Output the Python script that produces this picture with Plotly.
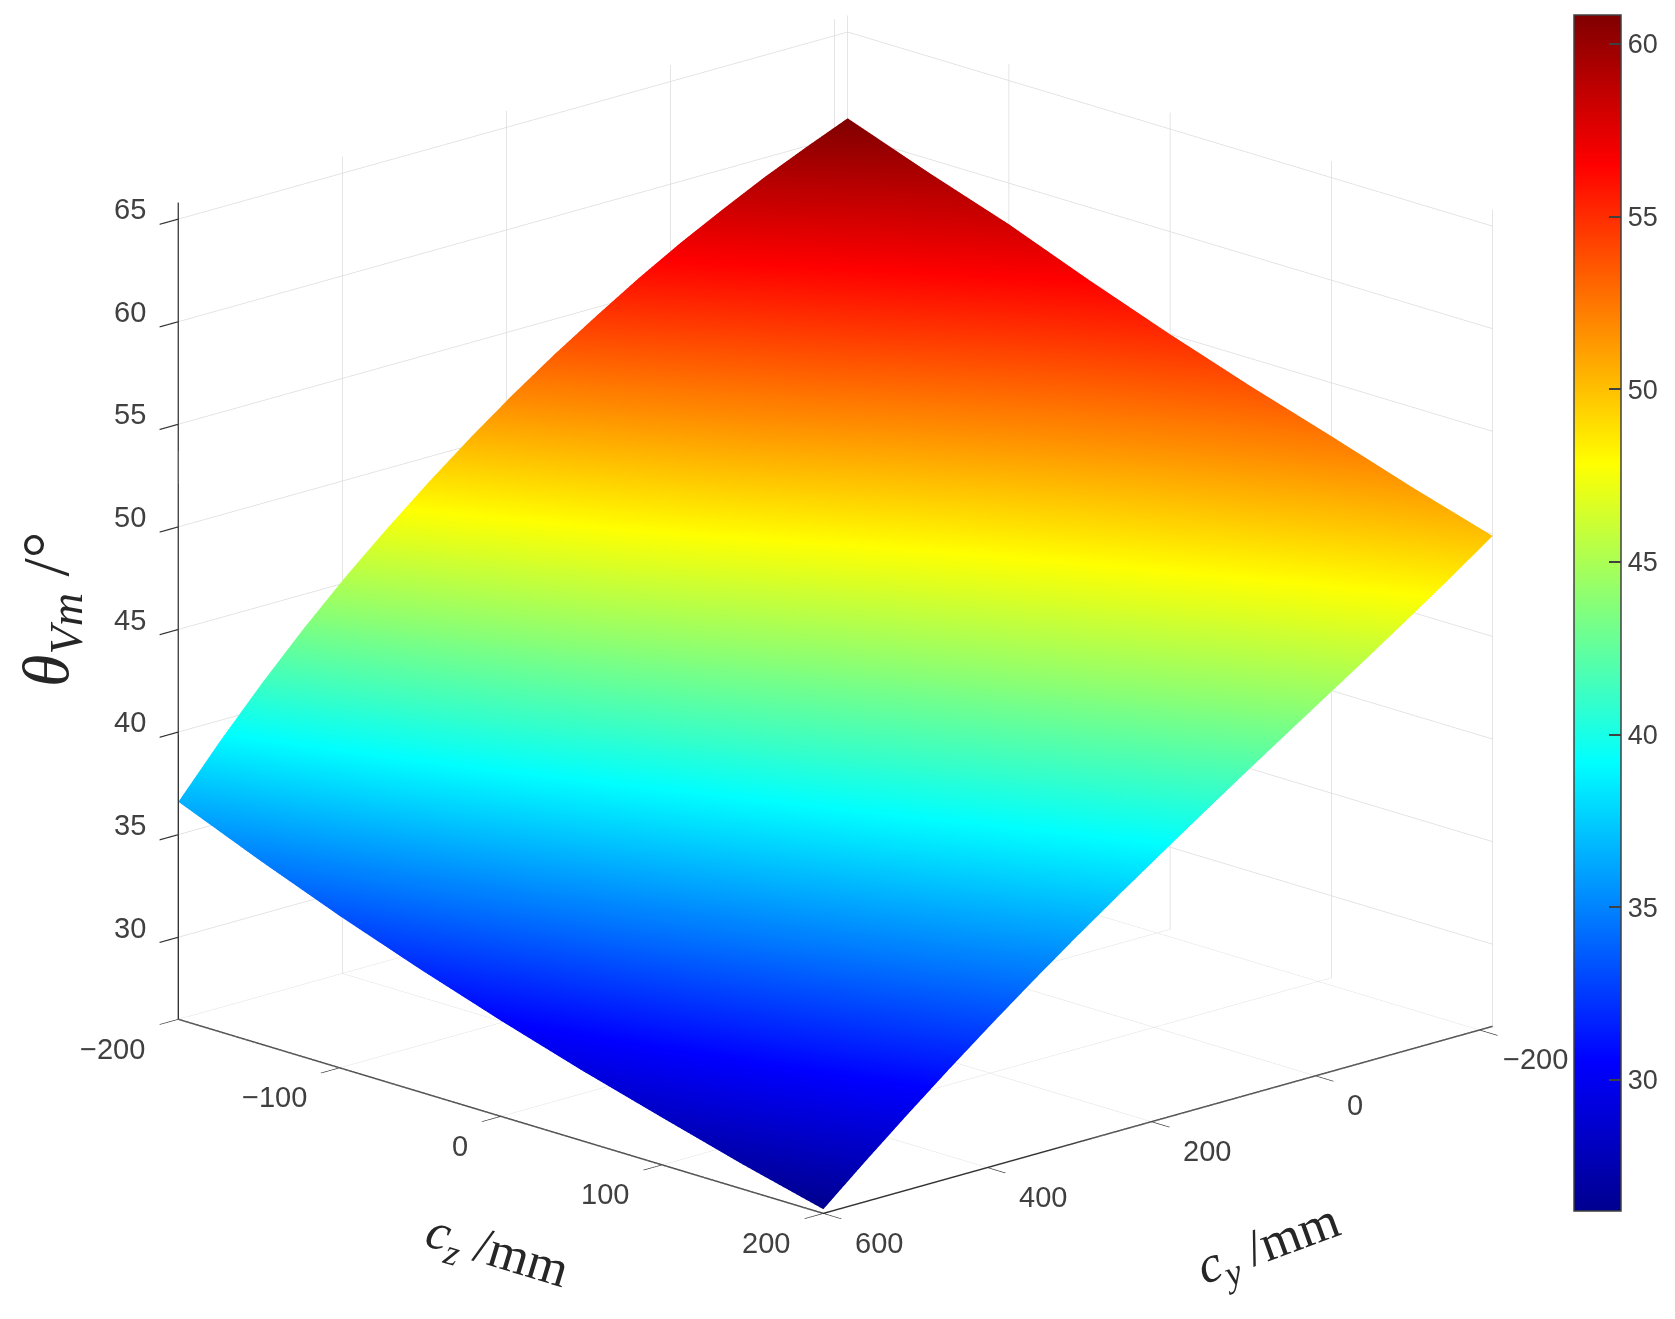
import plotly.graph_objects as go

cy_values = [600, 549, 498, 447, 396, 345, 294, 243, 192, 141, 90, 39, -12, -63, -114, -165, -216]
cz_values = [-200, -150, -100, -50, 0, 50, 100, 150, 200]
# rows follow cz_values, columns follow cy_values
theta_a = [36.6, 39.0, 41.25, 43.35, 45.3, 47.1, 48.8, 50.4, 51.9, 53.3, 54.6, 55.85, 57.0, 58.05, 59.05, 59.95, 60.8]
theta_b = [34.95, 37.3, 39.55, 41.6, 43.5, 45.3, 47.0, 48.6, 50.1, 51.53, 52.85, 54.08, 55.28, 56.38, 57.42, 58.4, 59.35]
theta_c = [33.4, 35.7, 37.9, 39.9, 41.8, 43.6, 45.3, 46.9, 48.4, 49.85, 51.2, 52.45, 53.65, 54.8, 55.9, 56.95, 58.0]
theta_d = [31.98, 34.2, 36.3, 38.23, 40.05, 41.8, 43.48, 45.03, 46.5, 47.95, 49.33, 50.63, 51.88, 53.08, 54.23, 55.35, 56.45]
theta_e = [30.66, 32.8, 34.8, 36.65, 38.4, 40.1, 41.75, 43.25, 44.7, 46.15, 47.55, 48.9, 50.2, 51.45, 52.65, 53.85, 55.0]
theta_f = [29.43, 31.48, 33.4, 35.2, 36.93, 38.58, 40.19, 41.68, 43.12, 44.58, 45.99, 47.33, 48.65, 49.93, 51.19, 52.43, 53.65]
theta_g = [28.3, 30.25, 32.1, 33.85, 35.55, 37.15, 38.73, 40.2, 41.64, 43.1, 44.52, 45.85, 47.19, 48.5, 49.82, 51.1, 52.4]
theta_h = [27.2, 29.05, 30.85, 32.55, 34.18, 35.75, 37.29, 38.75, 40.18, 41.6, 43.01, 44.36, 45.7, 47.05, 48.41, 49.75, 51.1]
theta_i = [26.2, 27.95, 29.65, 31.3, 32.9, 34.45, 35.95, 37.4, 38.82, 40.22, 41.6, 42.96, 44.31, 45.66, 47.04, 48.44, 49.9]
theta_rows = [theta_a, theta_b, theta_c, theta_d, theta_e, theta_f, theta_g, theta_h, theta_i]

cy_ticks = [-200, 0, 200, 400, 600]
cz_ticks = [-200, -100, 0, 100, 200]
theta_ticks = [30, 35, 40, 45, 50, 55, 60, 65]
bar_ticks = [30, 35, 40, 45, 50, 55, 60]

W, H = 1675, 1319
TICK = "#404040"
GRID = "#dcdcdc"
TICKFONT = dict(family="Liberation Sans", size=29, color=TICK)

jet = [
    [0.0, "rgb(0,0,143)"],
    [0.125, "rgb(0,0,255)"],
    [0.375, "rgb(0,255,255)"],
    [0.625, "rgb(255,255,0)"],
    [0.875, "rgb(255,0,0)"],
    [1.0, "rgb(128,0,0)"],
]

fig = go.Figure(
    go.Surface(
        x=cy_values,
        y=cz_values,
        z=theta_rows,
        surfacecolor=theta_rows,
        colorscale=jet,
        cmin=26.2,
        cmax=60.84,
        lighting=dict(ambient=1, diffuse=0, specular=0, roughness=1, fresnel=0),
        hoverinfo="skip",
        contours=dict(
            x=dict(highlight=False), y=dict(highlight=False), z=dict(highlight=False)
        ),
        colorbar=dict(
            x=1565.5 / W,
            xanchor="left",
            y=1 - 7 / H,
            yanchor="top",
            lenmode="pixels",
            len=1196,
            thicknessmode="pixels",
            thickness=47,
            tickvals=bar_ticks,
            tickprefix="\u2009",
            ticks="inside",
            ticklen=12,
            tickcolor=TICK,
            tickwidth=1.5,
            outlinecolor=TICK,
            outlinewidth=1.5,
            xpad=0,
            ypad=0,
            tickfont=dict(family="Liberation Sans", size=27, color=TICK),
        ),
    )
)


def axis(rng, ticks):
    return dict(
        range=rng,
        autorange=False,
        tickmode="array",
        tickvals=ticks,
        showticklabels=False,
        title=dict(text=""),
        showgrid=True,
        gridcolor=GRID,
        gridwidth=1.5,
        showline=True,
        linecolor="#333333",
        linewidth=3,
        zeroline=False,
        showbackground=False,
        showspikes=False,
        ticks="outside",
        ticklen=26,
        tickcolor="#333333",
        tickwidth=2.5,
    )


def label(x, y, z, text, xanchor, xshift, yshift):
    return dict(
        x=x, y=y, z=z, text=str(text).replace("-", "\u2212"),
        showarrow=False, xanchor=xanchor, yanchor="middle",
        xshift=xshift, yshift=yshift, font=TICKFONT,
    )


tick_labels = (
    [label(600, -200, t, t, "right", -30, 10) for t in theta_ticks]
    + [label(600, t, 26, t, "right", -31, -29) for t in cz_ticks]
    + [label(t, 200, 26, t, "left", 22 if t == -200 else 30, -29) for t in cy_ticks]
)

R = 1.22
S = 1.5326
fig.update_layout(
    width=W,
    height=H,
    margin=dict(l=0, r=0, t=0, b=0),
    paper_bgcolor="white",
    scene=dict(
        domain=dict(x=[0, 0.9878], y=[0.080, 1]),
        xaxis=axis([-216, 600], cy_ticks),
        yaxis=axis([-200, 200], cz_ticks),
        zaxis=axis([26, 65.8], theta_ticks),
        aspectmode="manual",
        aspectratio=dict(x=S, y=S, z=0.918 * S),
        annotations=tick_labels,
        camera=dict(
            projection=dict(type="orthographic"),
            eye=dict(x=0.664 * R, y=0.689 * R, z=0.29 * R),
            up=dict(x=0, y=0, z=1),
            center=dict(x=0, y=0, z=0),
        ),
    ),
    annotations=[
        dict(
            text="<i>θ</i><sub><i>Vm</i></sub> /°",
            x=42 / W, y=1 - 602 / H, xref="paper", yref="paper",
            xanchor="center", yanchor="middle",
            showarrow=False, textangle=-90,
            font=dict(family="Liberation Serif", size=66, color="#262626"),
        ),
        dict(
            text="<i>c</i><sub><i>z</i></sub> /mm",
            x=489 / W, y=1 - 1245 / H, xref="paper", yref="paper",
            xanchor="center", yanchor="middle",
            showarrow=False, textangle=17,
            font=dict(family="Liberation Serif", size=52, color="#262626"),
        ),
        dict(
            text="<i>c</i><sub><i>y</i></sub> /mm",
            x=1261 / W, y=1 - 1238 / H, xref="paper", yref="paper",
            xanchor="center", yanchor="middle",
            showarrow=False, textangle=-20,
            font=dict(family="Liberation Serif", size=52, color="#262626"),
        ),
    ],
)

fig.write_html("out.html")
